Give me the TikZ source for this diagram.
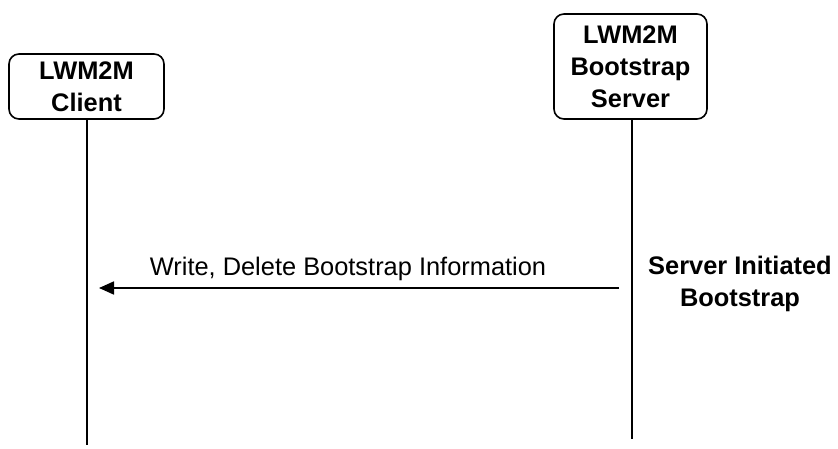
\documentclass[tikz,border=0pt]{standalone}
\usepackage{fontspec}
\setmainfont{Liberation Sans}
\usetikzlibrary{arrows.meta}
\begin{document}
\begin{tikzpicture}[x=1pt,y=-1pt,
  entity/.style={draw, line width=1.6pt, rounded corners=10pt, align=center,
    font=\fontsize{25.4}{32}\selectfont\bfseries, inner sep=0pt},
  life/.style={line width=1.8pt},
  msg/.style={line width=1.8pt, -{Triangle[length=15pt,width=13pt]}},
  lbl/.style={font=\fontsize{25.4}{32}\selectfont, inner sep=0pt},
  blbl/.style={font=\fontsize{25.4}{32}\selectfont\bfseries, inner sep=0pt, align=center}]
\useasboundingbox (0,0) rectangle (838,449);
\node[entity, minimum width=155pt, minimum height=65pt] (client) at (86.5,86.5) {LWM2M\\Client};
\node[entity, minimum width=153pt, minimum height=105pt] (bs) at (630.5,66.5) {LWM2M\\Bootstrap\\Server};
\coordinate (clientend) at (87,445);
\coordinate (bsend) at (632,439);
\draw[life] (client.south -| clientend) -- (clientend);
\draw[life] (bs.south -| bsend) -- (bsend);
\coordinate (msgstart) at (619,288);
\coordinate (msgend) at (99,288);
\draw[msg] (msgstart) -- (msgend);
\node[lbl, anchor=base] (wlbl) at (348,276) {Write, Delete Bootstrap Information};
\node[blbl, anchor=north] (sib) at (740,256) {Server Initiated\\Bootstrap};
\end{tikzpicture}
\end{document}
